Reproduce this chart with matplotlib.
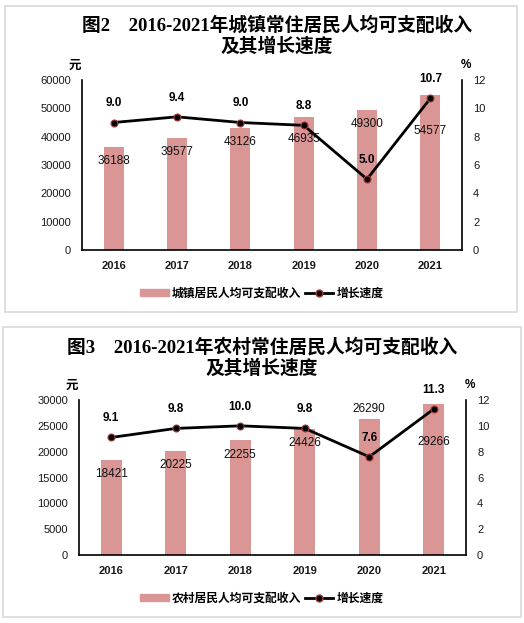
import matplotlib.pyplot as plt
from matplotlib.patches import Rectangle
import numpy as np

plt.rcParams['font.family'] = ['Liberation Sans', 'Noto Sans CJK SC']

years = ["2016", "2017", "2018", "2019", "2020", "2021"]

urban_income = [36188, 39577, 43126, 46935, 49300, 54577]
urban_growth = [9.0, 9.4, 9.0, 8.8, 5.0, 10.7]

rural_income = [18421, 20225, 22255, 24426, 26290, 29266]
rural_growth = [9.1, 9.8, 10.0, 9.8, 7.6, 11.3]

# label offsets in pixels below the bar top (negative = above)
urban_label_drop = [14, 14, 14, 22, 14, 36]
rural_label_drop = [14, 14, 15, 14, -10, 38]

bar_color = "#D99694"
cjk = ['Noto Sans CJK SC']

fig = plt.figure(figsize=(5.24, 6.23), dpi=100)
W, H = 524, 623


def frac(x0, y0, x1, y1):
    return [x0 / W, 1 - y1 / H, (x1 - x0) / W, (y1 - y0) / H]


# light grey frames
for (x0, y0, x1, y1) in [(5, 6, 517, 312), (3, 327, 521, 617)]:
    fig.patches.append(Rectangle((x0 / W, 1 - y1 / H), (x1 - x0) / W, (y1 - y0) / H,
                                 transform=fig.transFigure, fill=False,
                                 edgecolor="#d9d9d9", linewidth=1.2))


def panel(box, income, growth, ymax, ystep, drops, title1, title_x, title_y, legend_name, legend_y):
    ax = fig.add_axes(frac(*box))
    x = np.arange(len(years))
    ax.bar(x, income, width=0.32, color=bar_color, zorder=1)
    ax.set_xlim(-0.5, len(years) - 0.5)
    ax.set_ylim(0, ymax)
    ax.set_yticks(np.arange(0, ymax + 1, ystep))
    ax.set_xticks(x)
    ax.set_xticklabels(years, fontsize=8.5, fontweight='bold')
    ax.tick_params(axis='both', length=0, labelsize=8, colors="#1a1a1a")
    ax.tick_params(axis='y', pad=8)
    ax.tick_params(axis='x', pad=8)
    for lab in ax.get_xticklabels():
        lab.set_fontweight('bold')
    for s in ['top', 'right']:
        ax.spines[s].set_visible(False)
    ax.spines['left'].set_linewidth(1.2)
    ax.spines['bottom'].set_linewidth(1.2)
    for xi, v, d in zip(x, income, drops):
        ax.annotate(str(v), (xi, v), xytext=(0, -d), textcoords='offset pixels',
                    ha='center', va='center', fontsize=8.5, color="#111111", zorder=5)

    ax2 = ax.twinx()
    ax2.plot(x, growth, color='black', linewidth=2, marker='o', markersize=5,
             markerfacecolor='black', markeredgecolor='#a33a3a', markeredgewidth=0.8, zorder=3)
    ax2.set_ylim(0, 12)
    ax2.set_yticks(np.arange(0, 13, 2))
    ax2.tick_params(axis='y', length=0, labelsize=8, colors="#1a1a1a", pad=8)
    for s in ['top', 'left', 'bottom']:
        ax2.spines[s].set_visible(False)
    ax2.spines['right'].set_linewidth(1.2)
    for xi, g in zip(x, growth):
        ax2.annotate(f"{g:.1f}", (xi, g), xytext=(0, 19), textcoords='offset pixels',
                     ha='center', va='center', fontsize=8.5, fontweight='bold')

    left = box[0] / W
    right = box[2] / W
    top = 1 - box[1] / H
    fig.text(left - 7 / W, top + 15 / H, "元", family=cjk, fontsize=9, fontweight='bold',
             ha='center', va='center')
    fig.text(right + 4 / W, top + 15 / H, "%", fontsize=8.5, fontweight='bold',
             ha='center', va='center')
    fig.text(title_x / W, 1 - title_y / H, title1 + "\n及其增长速度",
             family=['Liberation Serif', 'Noto Sans CJK SC'], fontsize=13.5,
             fontweight='bold', ha='center', va='center', linespacing=1.15)

    handles = [Rectangle((0, 0), 1, 1, color=bar_color),
               plt.Line2D([], [], color='black', linewidth=2, marker='o', markersize=5,
                          markerfacecolor='black', markeredgecolor='#a33a3a')]
    fig.legend(handles, [legend_name, "增长速度"], loc='center',
               bbox_to_anchor=(262 / W, 1 - legend_y / H), ncol=2, frameon=False,
               prop={'family': cjk, 'size': 8.5, 'weight': 'bold'},
               handlelength=2.4, handleheight=0.5, columnspacing=0.3, handletextpad=0.3)
    return ax


panel((82, 80, 462, 250), urban_income, urban_growth, 60000, 10000, urban_label_drop,
      "图2　2016-2021年城镇常住居民人均可支配收入", 277, 36, "城镇居民人均可支配收入", 293)
panel((79, 400, 466, 555), rural_income, rural_growth, 30000, 5000, rural_label_drop,
      "图3　2016-2021年农村常住居民人均可支配收入", 262, 358, "农村居民人均可支配收入", 598)

fig.savefig("out.png", dpi=100)
